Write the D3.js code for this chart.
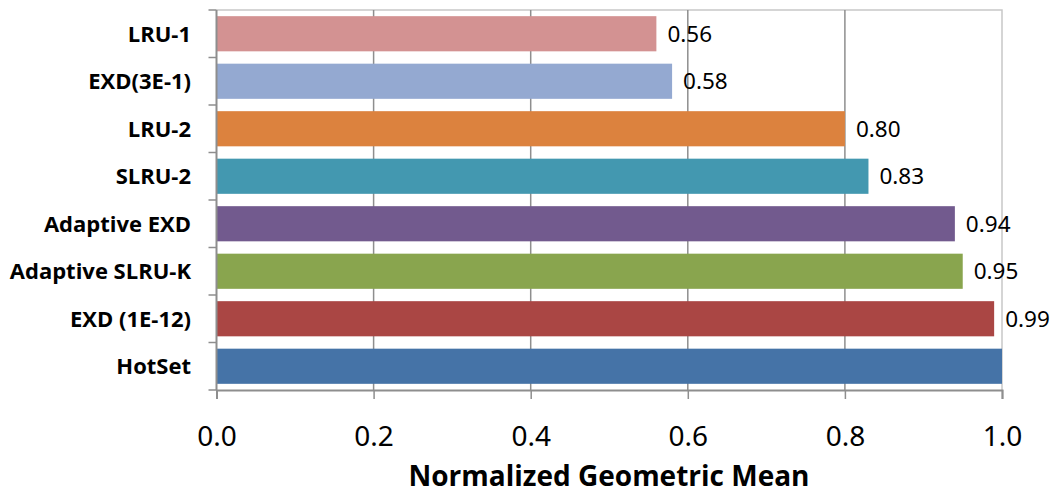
<!DOCTYPE html>
<html>
<head>
<meta charset="utf-8">
<script src="https://cdn.jsdelivr.net/npm/d3@7"></script>
<style>
  html, body { margin: 0; padding: 0; background: #ffffff; }
  svg { display: block; }
</style>
</head>
<body>
<svg id="chart" width="1051" height="493"></svg>
<script>
// Cache policies, normalized geometric mean (HotSet = 1.0)
const categories = ["LRU-1", "EXD(3E-1)", "LRU-2", "SLRU-2", "Adaptive EXD", "Adaptive SLRU-K", "EXD (1E-12)", "HotSet"];
const values = [0.56, 0.58, 0.80, 0.83, 0.94, 0.95, 0.99, 1.00];
const valueLabels = ["0.56", "0.58", "0.80", "0.83", "0.94", "0.95", "0.99", ""];
const barColors = ["#d39292", "#94a9d1", "#dc823e", "#4398b0", "#725a8e", "#89a54e", "#aa4644", "#4573a7"];
const xTicks = [0, 0.2, 0.4, 0.6, 0.8, 1.0];
const xTitle = "Normalized Geometric Mean";

const svg = d3.select("#chart");
const plot = { left: 216.5, right: 1002, top: 10, bottom: 390 };

const x = d3.scaleLinear().domain([0, 1]).range([plot.left, plot.right]);
const y = d3.scaleBand().domain(categories).range([plot.top, plot.bottom]).paddingInner(0.26).paddingOuter(0.13);
const yBounds = d3.scaleLinear().domain([0, categories.length]).range([plot.top, plot.bottom]);

// plot frame (top and right edges)
svg.append("path")
  .attr("d", `M${plot.left},${plot.top}H${plot.right}V${plot.bottom}`)
  .attr("fill", "none").attr("stroke", "#c8c8c8").attr("stroke-width", 1.5);

// vertical gridlines
svg.append("g").selectAll("line")
  .data(xTicks.filter(d => d > 0 && d < 1))
  .join("line")
  .attr("x1", d => x(d)).attr("x2", d => x(d))
  .attr("y1", plot.top).attr("y2", plot.bottom)
  .attr("stroke", "#8e8e8e").attr("stroke-width", 1.5);

// bars
svg.append("g").selectAll("rect")
  .data(categories)
  .join("rect")
  .attr("x", x(0))
  .attr("y", d => y(d))
  .attr("width", (d, i) => x(values[i]) - x(0))
  .attr("height", y.bandwidth())
  .attr("fill", (d, i) => barColors[i]);

// value labels
svg.append("g").selectAll("text")
  .data(categories)
  .join("text")
  .attr("x", (d, i) => x(values[i]) + 11)
  .attr("y", d => y(d) + y.bandwidth() / 2)
  .attr("dy", "0.36em")
  .attr("font-family", "'Noto Sans', 'Open Sans', sans-serif")
  .attr("font-size", 22.5)
  .attr("fill", "#000")
  .text((d, i) => valueLabels[i]);

// x axis
const xAxis = d3.axisBottom(x).tickValues(xTicks).tickFormat(d3.format(".1f")).tickSize(9).tickPadding(27);
const gx = svg.append("g").attr("transform", `translate(0,${plot.bottom})`).call(xAxis);
gx.select(".domain").attr("stroke", "#8e8e8e").attr("stroke-width", 2);
gx.selectAll(".tick line").attr("stroke", "#8e8e8e").attr("stroke-width", 1.5);
gx.selectAll(".tick text")
  .attr("font-family", "'Noto Sans', 'Open Sans', sans-serif")
  .attr("font-size", 28)
  .attr("fill", "#000");

// y axis: line with ticks at category boundaries
const gy = svg.append("g");
gy.append("line")
  .attr("x1", plot.left).attr("x2", plot.left)
  .attr("y1", plot.top).attr("y2", plot.bottom)
  .attr("stroke", "#8e8e8e").attr("stroke-width", 2);
gy.selectAll("line.tk")
  .data(d3.range(categories.length + 1))
  .join("line").attr("class", "tk")
  .attr("x1", plot.left - 8).attr("x2", plot.left)
  .attr("y1", d => yBounds(d)).attr("y2", d => yBounds(d))
  .attr("stroke", "#8e8e8e").attr("stroke-width", 1.5);
gy.selectAll("text")
  .data(categories)
  .join("text")
  .attr("x", 191)
  .attr("y", d => y(d) + y.bandwidth() / 2)
  .attr("dy", "0.36em")
  .attr("text-anchor", "end")
  .attr("font-family", "'Open Sans', 'Noto Sans', sans-serif")
  .attr("font-weight", "bold")
  .attr("font-size", 22)
  .attr("fill", "#000")
  .text(d => d);

// axis title
svg.append("text")
  .attr("x", 609)
  .attr("y", 486)
  .attr("text-anchor", "middle")
  .attr("font-family", "'Open Sans', 'Noto Sans', sans-serif")
  .attr("font-weight", "bold")
  .attr("font-size", 28)
  .attr("fill", "#000")
  .text(xTitle);
</script>
</body>
</html>
